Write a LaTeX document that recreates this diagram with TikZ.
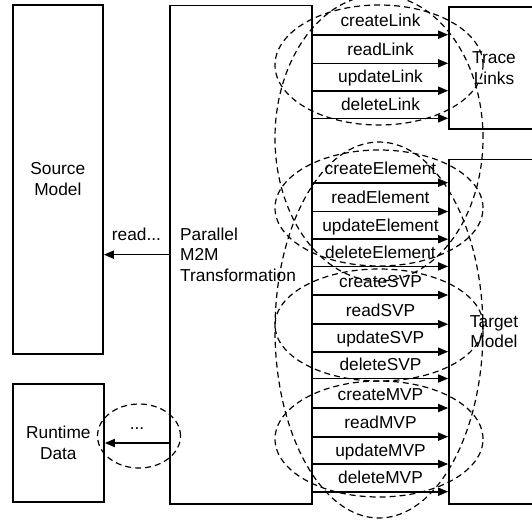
\documentclass[tikz,border=0pt]{standalone}
\usepackage{fontspec}
\setmainfont{Liberation Sans}
\usetikzlibrary{arrows.meta}
\begin{document}
\begin{tikzpicture}[x=1pt,y=-1pt,
  box/.style={draw, line width=1.6pt, inner sep=0pt, align=center, font=\fontsize{17.3}{20.7}\selectfont},
  arr/.style={line width=1.6pt, -{Triangle[length=10pt,width=8pt]}},
  lbl/.style={font=\fontsize{17.3}{20.7}\selectfont, inner sep=0pt},
  grp/.style={dash pattern=on 6pt off 4pt, line width=1.2pt}]
\clip (0,0) rectangle (532,523);
% boxes
\node[box, minimum width=90.3pt, minimum height=349.3pt] (src) at (57.85,179.35) {Source\\Model};
\node[box, minimum width=91.3pt, minimum height=118pt] (rt) at (58.35,443) {Runtime\\Data};
\node[box, minimum width=142pt, minimum height=498.7pt] (par) at (241,254.65) {};
\node[lbl, anchor=west, align=left] (partxt) at (180,254.65) {Parallel\\M2M\\Transformation};
\node[box, minimum width=90pt, minimum height=122.3pt] (tl) at (494,67.85) {Trace\\Links};
\node[box, minimum width=90pt, minimum height=344.7pt] (tm) at (494,331.65) {Target\\Model};
% left arrows
\draw[arr] (par.west) -- (src.east |- par.west);
\node[lbl, anchor=base] (readlbl) at (136.5,240) {read...};
\draw[arr] (par.west |- rt.east) -- (rt.east);
\node[lbl, anchor=base] (dotlbl) at (137,429) {...};
% right arrows to trace links
\foreach \yy/\tt/\nn in {34.7/createLink/l1, 63.3/readLink/l2, 90.7/updateLink/l3, 118.3/deleteLink/l4}{
  \coordinate (\nn) at (380.5,\yy);
  \draw[arr] (par.east |- \nn) -- (tl.west |- \nn);
  \node[lbl, anchor=base] (\nn t) at ([yshift=8pt]\nn) {\tt};
}
\foreach \yy/\tt/\nn in {182.7/createElement/e1, 211.5/readElement/e2, 239.2/updateElement/e3, 266.4/deleteElement/e4,
  295/createSVP/s1, 324.2/readSVP/s2, 351.7/updateSVP/s3, 378.5/deleteSVP/s4,
  408/createMVP/m1, 436.7/readMVP/m2, 464/updateMVP/m3, 491.7/deleteMVP/m4}{
  \coordinate (\nn) at (380.5,\yy);
  \draw[arr] (par.east |- \nn) -- (tm.west |- \nn);
  \node[lbl, anchor=base] (\nn t) at ([yshift=8pt]\nn) {\tt};
}
% dashed groups
\draw[grp] (379,65) ellipse [x radius=104pt, y radius=60pt];
\draw[grp] (379,208) ellipse [x radius=104pt, y radius=58pt];
\draw[grp] (379,325) ellipse [x radius=104pt, y radius=56pt];
\draw[grp] (379,439) ellipse [x radius=104pt, y radius=58pt];
\draw[grp] (379,138) ellipse [x radius=104pt, y radius=143pt];
\draw[grp] (379,330) ellipse [x radius=104pt, y radius=188pt];
\draw[grp] (139,436) ellipse [x radius=41.5pt, y radius=32pt];
\end{tikzpicture}
\end{document}
